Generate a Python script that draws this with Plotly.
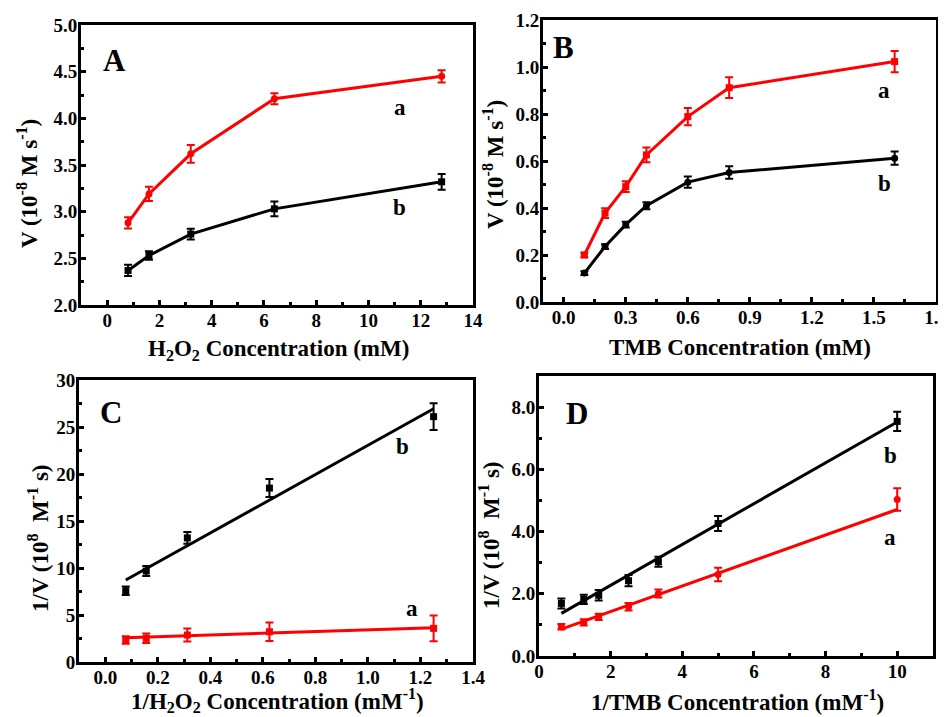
import plotly.graph_objects as go

# ---------------- data ----------------
# Panel A: V vs H2O2 concentration
A_x = [0.8, 1.6, 3.2, 6.4, 12.8]
A_a = [2.88, 3.19, 3.62, 4.21, 4.45]
A_a_err = [0.06, 0.077, 0.095, 0.06, 0.065]
A_b = [2.37, 2.53, 2.76, 3.03, 3.32]
A_b_err = [0.06, 0.045, 0.057, 0.08, 0.084]

# Panel B: V vs TMB concentration
B_x = [0.1, 0.2, 0.3, 0.4, 0.6, 0.8, 1.6]
B_a = [0.20, 0.378, 0.491, 0.626, 0.789, 0.912, 1.023]
B_a_err = [0.01, 0.021, 0.023, 0.031, 0.037, 0.044, 0.045]
B_b = [0.123, 0.236, 0.329, 0.41, 0.51, 0.551, 0.612]
B_b_err = [0.008, 0.01, 0.012, 0.015, 0.024, 0.027, 0.028]

# Panel C: Lineweaver-Burk, 1/H2O2
C_x = [0.078, 0.156, 0.3125, 0.625, 1.25]
C_a = [2.34, 2.52, 2.87, 3.22, 3.58]
C_a_err = [0.4, 0.5, 0.7, 0.98, 1.37]
C_b = [7.58, 9.68, 13.2, 18.5, 26.1]
C_b_err = [0.45, 0.53, 0.62, 0.96, 1.42]
C_fit_a = [0.9, 2.52]     # slope, intercept
C_fit_b = [15.55, 7.51]

# Panel D: Lineweaver-Burk, 1/TMB
D_x = [0.625, 1.25, 1.667, 2.5, 3.333, 5.0, 10.0]
D_a = [0.94, 1.08, 1.26, 1.58, 2.01, 2.62, 5.03]
D_a_err = [0.09, 0.1, 0.1, 0.12, 0.13, 0.22, 0.36]
D_b = [1.69, 1.82, 1.95, 2.42, 3.03, 4.26, 7.54]
D_b_err = [0.16, 0.15, 0.17, 0.18, 0.16, 0.24, 0.31]
D_fit_a = [0.41, 0.61]
D_fit_b = [0.656, 0.96]

# axis titles
A_xtitle = "H<sub>2</sub>O<sub>2</sub> Concentration (mM)"
A_ytitle = "V (10<sup>-8</sup> M s<sup>-1</sup>)"
B_xtitle = "TMB Concentration (mM)"
B_ytitle = "V (10<sup>-8</sup> M s<sup>-1</sup>)"
C_xtitle = "1/H<sub>2</sub>O<sub>2</sub> Concentration (mM<sup>-1</sup>)"
C_ytitle = "1/V (10<sup>8</sup>  M<sup>-1</sup> s)"
D_xtitle = "1/TMB Concentration (mM<sup>-1</sup>)"
D_ytitle = "1/V (10<sup>8</sup>  M<sup>-1</sup> s)"

RED = "#ff0000"
BLACK = "#000000"
FONT = "Liberation Serif, Times New Roman, serif"

W, H = 946, 717
OFF = 8  # page body margin offset


def fx(px):
    return (px - OFF) / W


def fy(py):
    return 1 - (py - OFF) / H


fig = go.Figure()


def err(vals, color):
    return dict(type="data", array=vals, visible=True, color=color,
                thickness=2, width=4)


def add_series(x, y, e, color, symbol, xa, ya, mode="lines+markers"):
    fig.add_trace(go.Scatter(
        x=x, y=y, error_y=err(e, color), mode=mode,
        line=dict(color=color, width=3),
        marker=dict(color=color, symbol=symbol, size=7),
        xaxis=xa, yaxis=ya, showlegend=False))


def add_fit(x, fit, color, xa, ya):
    xs = [min(x), max(x)]
    ys = [fit[0] * v + fit[1] for v in xs]
    fig.add_trace(go.Scatter(
        x=xs, y=ys, mode="lines", line=dict(color=color, width=3),
        xaxis=xa, yaxis=ya, showlegend=False))


# A
add_series(A_x, A_a, A_a_err, RED, "circle", "x", "y")
add_series(A_x, A_b, A_b_err, BLACK, "square", "x", "y")
# B
add_series(B_x, B_a, B_a_err, RED, "square", "x2", "y2")
add_series(B_x, B_b, B_b_err, BLACK, "circle", "x2", "y2")
# C
add_fit(C_x, C_fit_b, BLACK, "x3", "y3")
add_fit(C_x, C_fit_a, RED, "x3", "y3")
add_series(C_x, C_b, C_b_err, BLACK, "square", "x3", "y3", mode="markers")
add_series(C_x, C_a, C_a_err, RED, "square", "x3", "y3", mode="markers")
# D
add_fit(D_x, D_fit_b, BLACK, "x4", "y4")
add_fit(D_x, D_fit_a, RED, "x4", "y4")
add_series(D_x, D_b, D_b_err, BLACK, "square", "x4", "y4", mode="markers")
add_series(D_x, D_a, D_a_err, RED, "circle", "x4", "y4", mode="markers")


def axis(domain, rng, dtick, anchor, fmt=None, standoff=0):
    d = dict(domain=domain, range=rng, dtick=dtick, tick0=0, anchor=anchor,
             showline=True, linewidth=3, linecolor="black", mirror=True,
             ticks="inside", ticklen=5, tickwidth=3, tickcolor="black",
             minor=dict(ticks="inside", ticklen=3, tickwidth=3,
                        tickcolor="black", dtick=dtick / 2),
             showgrid=False, zeroline=False, automargin=False,
             ticklabelstandoff=standoff,
             tickfont=dict(family=FONT, size=19, color="black", weight="bold"))
    if fmt:
        d["tickformat"] = fmt
    return d


fig.update_layout(
    width=W, height=H,
    margin=dict(l=0, r=0, t=0, b=0, autoexpand=False),
    paper_bgcolor="white", plot_bgcolor="white",
    xaxis=axis([fx(81), fx(473)], [-1, 14], 2, "y", standoff=-4),
    yaxis=axis([fy(305), fy(25)], [2.0, 5.0], 0.5, "x", ".1f", standoff=-3),
    xaxis2=axis([fx(543), fx(936)], [-0.1, 1.8], 0.3, "y2", ".1f", standoff=-4),
    yaxis2=axis([fy(302), fy(20)], [0.0, 1.2], 0.2, "x2", ".1f", standoff=-3),
    xaxis3=axis([fx(79), fx(473)], [-0.1, 1.4], 0.2, "y3", ".1f", standoff=-4),
    yaxis3=axis([fy(662), fy(380)], [0, 30], 5, "x3", standoff=-3),
    xaxis4=axis([fx(539), fx(933)], [0, 11], 2, "y4", standoff=-4),
    yaxis4=axis([fy(656), fy(376)], [0, 9], 2, "x4", ".1f", standoff=-3),
)

title_font = dict(family=FONT, size=23, color="black", weight="bold")
titles = [
    (278, 350, A_xtitle, 0),
    (28, 184, A_ytitle, -90),
    (740, 347, B_xtitle, 0),
    (494, 165, B_ytitle, -90),
    (277, 700, C_xtitle, 0),
    (38, 538, C_ytitle, -90),
    (737, 700, D_xtitle, 0),
    (489, 535, D_ytitle, -90),
]
for px, py, t, ang in titles:
    fig.add_annotation(x=fx(px), y=fy(py), xref="paper", yref="paper", text=t,
                       showarrow=False, font=title_font, textangle=ang,
                       xanchor="center", yanchor="middle")

ann_font = dict(family=FONT, size=23, color="black", weight="bold")
big_font = dict(family=FONT, size=31, color="black", weight="bold")
labels = [
    ("x", "y", 0.3, 4.62, "A", big_font),
    ("x", "y", 11.2, 4.12, "a", ann_font),
    ("x", "y", 11.2, 3.04, "b", ann_font),
    ("x2", "y2", 0.0, 1.085, "B", big_font),
    ("x2", "y2", 1.55, 0.90, "a", ann_font),
    ("x2", "y2", 1.55, 0.506, "b", ann_font),
    ("x3", "y3", 0.02, 26.5, "C", big_font),
    ("x3", "y3", 1.13, 22.9, "b", ann_font),
    ("x3", "y3", 1.166, 5.7, "a", ann_font),
    ("x4", "y4", 1.06, 7.8, "D", big_font),
    ("x4", "y4", 9.8, 6.46, "b", ann_font),
    ("x4", "y4", 9.8, 3.8, "a", ann_font),
]
for xr, yr, xv, yv, t, f in labels:
    fig.add_annotation(x=xv, y=yv, xref=xr, yref=yr, text=t, showarrow=False,
                       font=f, xanchor="center", yanchor="middle")

fig.write_html("out.html")
